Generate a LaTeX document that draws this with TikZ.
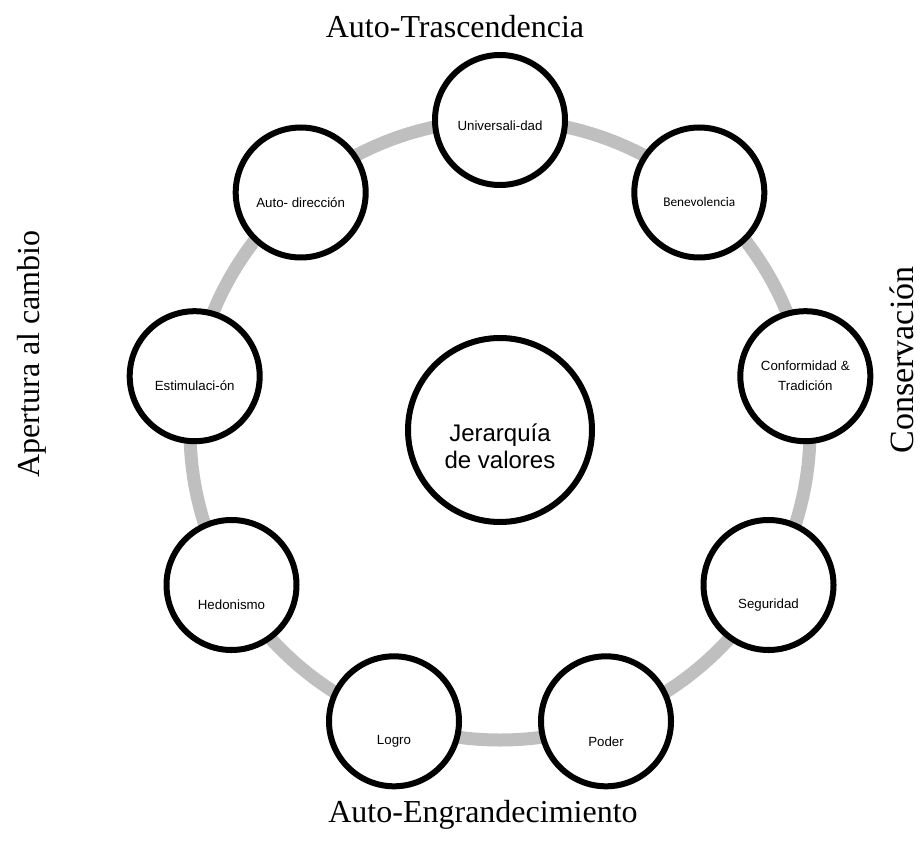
\documentclass[tikz,border=0pt]{standalone}
\usepackage{fontspec}
\setmainfont{Liberation Serif}
\newfontfamily\arialf{Liberation Sans}
\newfontfamily\calibrif{Carlito}
\begin{document}
\begin{tikzpicture}[x=1pt,y=-1pt,
  valnode/.style={circle,draw=black,line width=6pt,fill=white,minimum size=130pt,inner sep=0pt},
  valtext/.style={font=\arialf\fontsize{13.3}{17}\selectfont,align=center,inner sep=0pt},
  sidetext/.style={font=\fontsize{32}{36}\selectfont,inner sep=0pt},
  ring/.style={line width=13pt,draw=black!25}]
\useasboundingbox (0,0) rectangle (920,842);
\coordinate (C) at (500,430);
\draw[ring] (C) circle (310);
\node[valnode] (uni) at (500,120) {};
\node[valnode] (ben) at (699.3,192.5) {};
\node[valnode] (con) at (805.3,376.2) {};
\node[valnode] (seg) at (768.5,585) {};
\node[valnode] (pod) at (606,721.3) {};
\node[valnode] (log) at (394,721.3) {};
\node[valnode] (hed) at (231.5,585) {};
\node[valnode] (est) at (194.7,376.2) {};
\node[valnode] (aut) at (300.7,192.5) {};
\node[valnode,minimum size=184pt] (jer) at (500,430) {};
\node[valtext] (tuni) at ([yshift=-6pt]uni.center) {Universali-dad};
\node[valtext,font=\calibrif\fontsize{13.3}{17}\selectfont] (tben) at ([yshift=-9pt]ben.center) {Benevolencia};
\node[valtext,font=\arialf\fontsize{13.3}{20}\selectfont] (tcon) at ([yshift=0pt]con.center) {Conformidad \&\\Tradición};
\node[valtext] (tseg) at ([yshift=-20pt]seg.center) {Seguridad};
\node[valtext] (tpod) at ([yshift=-20pt]pod.center) {Poder};
\node[valtext] (tlog) at ([yshift=-20pt]log.center) {Logro};
\node[valtext] (thed) at ([yshift=-20pt]hed.center) {Hedonismo};
\node[valtext] (test) at ([yshift=-9pt]est.center) {Estimulaci-ón};
\node[valtext] (taut) at ([yshift=-10pt]aut.center) {Auto- dirección};
\node[font=\arialf\fontsize{24}{27}\selectfont,align=center,inner sep=0pt] (tjer) at (500,446) {Jerarquía\\de valores};
\node[sidetext] (top) at (455,27) {Auto-Trascendencia};
\node[sidetext] (bot) at (483,815) {Auto-Engrandecimiento};
\node[sidetext,rotate=90] (lft) at (32,354) {Apertura al cambio};
\node[sidetext,font=\fontsize{34}{38}\selectfont,rotate=90] (rgt) at (902,360) {Conservación};
\end{tikzpicture}
\end{document}
